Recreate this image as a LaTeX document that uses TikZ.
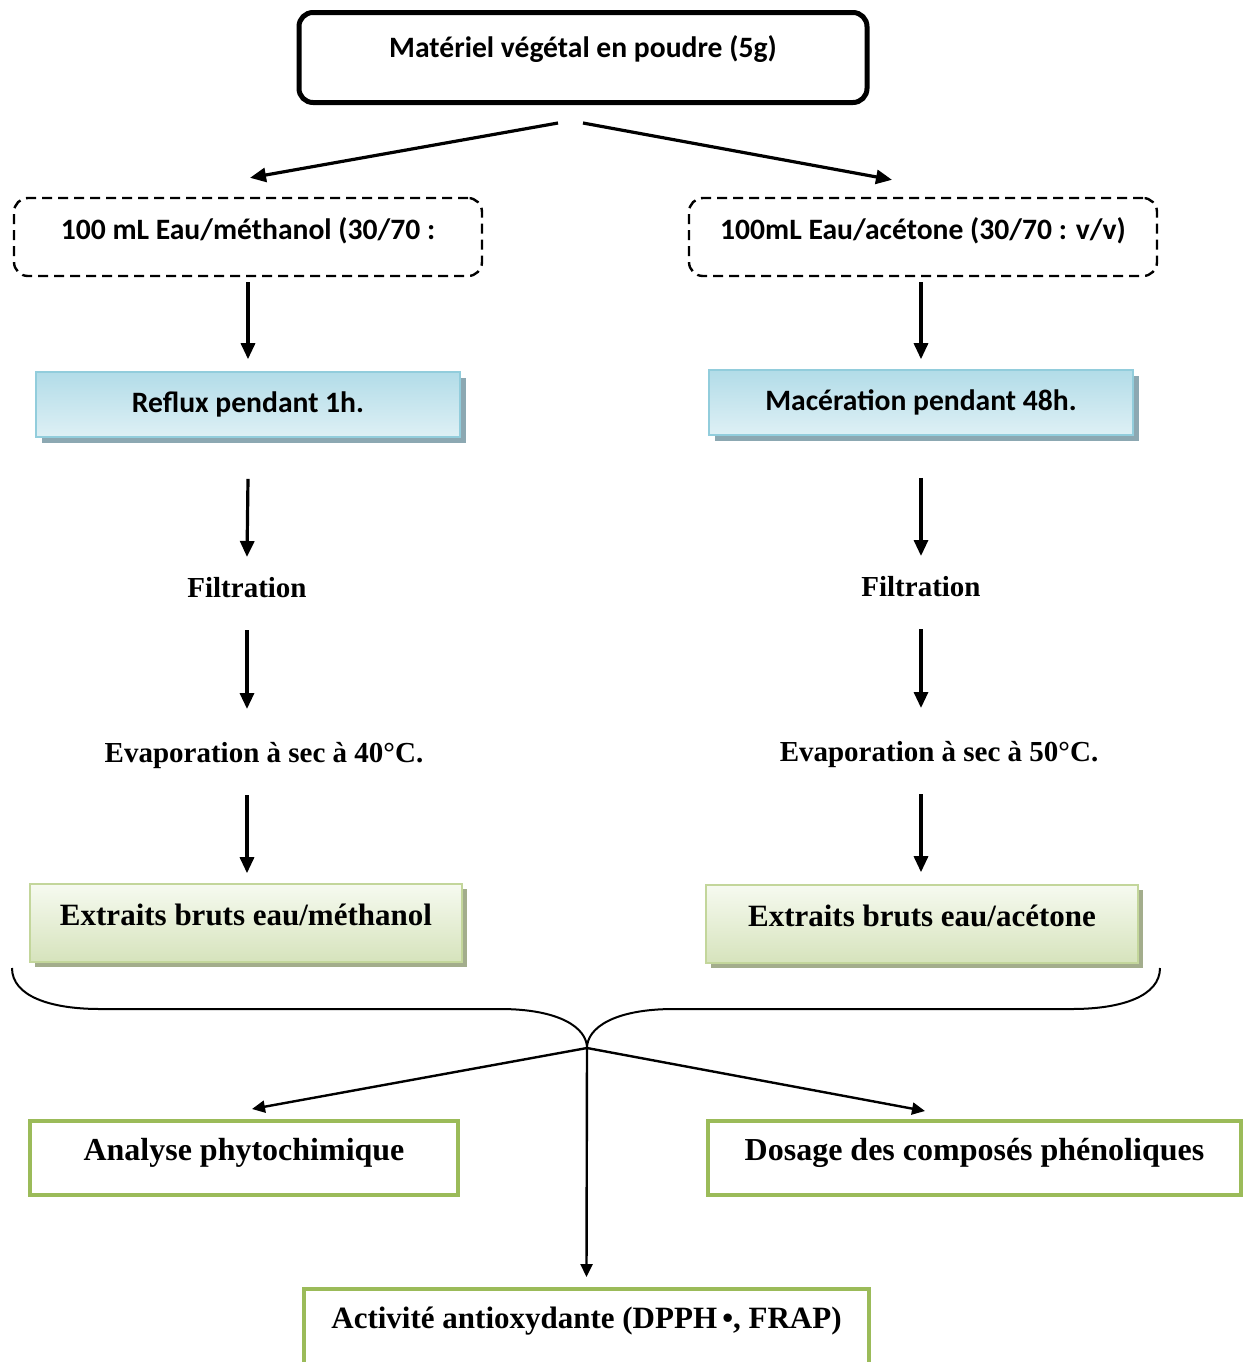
\documentclass[tikz,border=0pt]{standalone}
\usepackage{fontspec}
\setmainfont{Liberation Serif}
\newfontfamily\calfont{Carlito}
\usetikzlibrary{
	arrows.meta, positioning, calc, shadows
}
\definecolor{boxbluetop}   {RGB}{178, 220, 232}
\definecolor{boxbluebot}   {RGB}{222, 240, 245}
\definecolor{boxblueline}  {RGB}{146, 205, 220}
\definecolor{boxblueshade} {RGB}{140, 168, 178}
\definecolor{boxgreentop}  {RGB}{246, 250, 240}
\definecolor{boxgreenbot}  {RGB}{214, 227, 188}
\definecolor{boxgreenline} {RGB}{195, 214, 155}
\definecolor{boxgreenshade}{RGB}{163, 173, 140}
\definecolor{framegreen}   {RGB}{155, 187,  89}

\tikzset{
	arr/.style={-{Triangle[length=8pt,width=7pt]}, line width=1.6pt},
	arrthin/.style={-{Triangle[length=6.5pt,width=6pt]}, line width=1.2pt},
	sanstxt/.style={font=\calfont\bfseries\fontsize{14.8}{18}\selectfont},
	seriftxt/.style={font=\bfseries\fontsize{14.5}{17}\selectfont},
	startbox/.style={sanstxt, draw, line width=2.5pt, rounded corners=7pt,
		minimum width=284pt, minimum height=45pt, text height=10pt, text depth=10pt},
	solventbox/.style={sanstxt, draw, line width=1.2pt, dash pattern=on 5pt off 3pt,
		rounded corners=7pt, minimum width=234pt, minimum height=39pt,
		text height=10pt, text depth=7.4pt},
	bluebox/.style={sanstxt, draw=boxblueline, line width=0.8pt,
		top color=boxbluetop, bottom color=boxbluebot,
		minimum width=212pt, minimum height=32.5pt,
		drop shadow={shadow xshift=3pt, shadow yshift=-3pt, fill=boxblueshade, opacity=1}},
	greenbox/.style={font=\bfseries\fontsize{15.5}{18}\selectfont, draw=boxgreenline, line width=0.8pt,
		top color=boxgreentop, bottom color=boxgreenbot,
		minimum width=216pt, minimum height=39pt, text height=10pt, text depth=8pt,
		drop shadow={shadow xshift=2.5pt, shadow yshift=-2.5pt, fill=boxgreenshade, opacity=1}},
	resultbox/.style={font=\bfseries\fontsize{16}{19}\selectfont, draw=framegreen, line width=2pt,
		fill=white, minimum height=37pt, text height=10pt, text depth=8pt}
}

\begin{document}
\begin{tikzpicture}[x=0.5pt, y=-0.5pt]
	\useasboundingbox (0,0) rectangle (1248,1362);

	\node[startbox] (mat) at (583,57.5) {Matériel végétal en poudre (5g)};

	\node[solventbox] (meth) at (248,237) {100 mL Eau/méthanol (30/70 :};
	\node[solventbox] (acet) at (923,237) {100mL Eau/acétone (30/70 : v/v)};

	\node[bluebox] (reflux) at (248,404.5) {Reflux pendant 1h.};
	\node[bluebox] (macer) at (921,402.5) {Macération pendant 48h.};

	\node[seriftxt] (filtl) at (247,588) {Filtration};
	\node[seriftxt] (filtr) at (921,587) {Filtration};

	\node[seriftxt] (evapl) at (264,755) {Evaporation à sec à 40°C.};
	\node[seriftxt] (evapr) at (939,754) {Evaporation à sec à 50°C.};

	\node[greenbox] (extl) at (246,923) {Extraits bruts eau/méthanol};
	\node[greenbox] (extr) at (922,924) {Extraits bruts eau/acétone};

	\node[resultbox, minimum width=214pt] (phyto) at (244,1158) {Analyse phytochimique};
	\node[resultbox, minimum width=266.5pt] (dosage) at (974.5,1158) {Dosage des composés phénoliques};
	\node[resultbox, minimum width=282.5pt, minimum height=43pt, text depth=14pt,
		font=\bfseries\fontsize{15.5}{19}\selectfont] (antiox) at (586.5,1332) {Activité antioxydante (DPPH\,•, FRAP)};

	\draw[arr] ([xshift=-12.5pt,yshift=-9pt]mat.south) -- ([xshift=1pt,yshift=9.5pt]meth.north);
	\draw[arr] ([yshift=-9pt]mat.south) -- ([xshift=-15.5pt,yshift=8.5pt]acet.north);

	\draw[arr] ([yshift=-2.5pt]meth.south -| reflux.south) -- ([yshift=6pt]reflux.north);
	\draw[arr] ([yshift=-20.5pt]reflux.south) -- ([yshift=15.5pt]filtl.center);
	\draw[arr] ([yshift=-21pt]filtl.center) -- ([yshift=23pt]filtl.center |- evapl.center);
	\draw[arr] ([yshift=-20pt]filtl.center |- evapl.center) -- ([yshift=5pt]extl.north -| filtl.center);

	\draw[arr] ([yshift=-2.5pt]acet.south -| macer.south) -- ([yshift=5pt]macer.north);
	\draw[arr] ([yshift=-21pt]macer.south) -- ([yshift=15.5pt]filtr.center);
	\draw[arr] ([yshift=-21pt]filtr.center) -- ([yshift=23pt]filtr.center |- evapr.center);
	\draw[arr] ([yshift=-20pt]filtr.center |- evapr.center) -- ([yshift=6pt]extr.north -| filtr.center);

	\coordinate (tip) at (587,1048);
	\draw[line width=1pt] (12,968) .. controls (12,996) and (50,1009) .. (100,1009) -- (500,1009)
		.. controls (560,1009) and (587,1028) .. (tip);
	\draw[line width=1pt] (1160,968) .. controls (1160,996) and (1122,1009) .. (1072,1009) -- (674,1009)
		.. controls (614,1009) and (587,1028) .. (tip);

	\draw[arrthin] (tip) -- ([xshift=4pt,yshift=5pt]phyto.north);
	\draw[arrthin] (tip) -- ([xshift=-24.75pt,yshift=4pt]dosage.north);
	\draw[arrthin] (tip) -- ([yshift=5pt]antiox.north);
\end{tikzpicture}
\end{document}
